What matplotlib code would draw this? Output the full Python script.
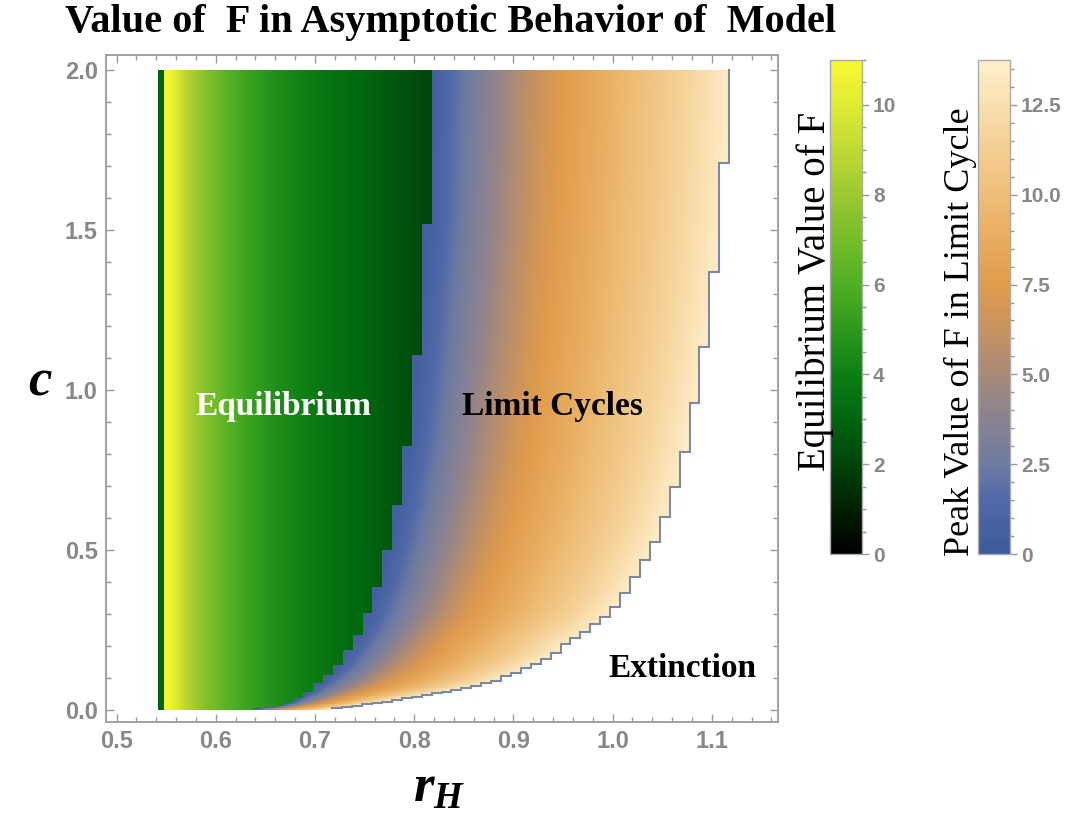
import numpy as np
import matplotlib
matplotlib.use('Agg')
import matplotlib.pyplot as plt
from matplotlib.colors import LinearSegmentedColormap, Normalize
from matplotlib.cm import ScalarMappable
from matplotlib.ticker import MultipleLocator

# ---------------- data ----------------
# r_H columns: one narrow first column, then columns of width 0.01
rh_edges = np.concatenate([[0.5415], np.round(np.arange(0.5475, 1.1180, 0.01), 4)])

# equilibrium value of F in each equilibrium column (columns 0..27)
eq_F = [3.0, 10.8, 9.6, 8.6, 7.8, 7.2, 6.7, 6.2, 5.8, 5.4, 5.1,
        4.8, 4.55, 4.35, 4.15, 3.95, 3.8, 3.6, 3.45, 3.3, 3.15,
        3.0, 2.85, 2.7, 2.55, 2.4, 2.25, 2.1]

# lowest c with a stable equilibrium, per column (columns 0..27)
hopf_c = [0, 0, 0, 0, 0, 0, 0, 0, 0, 0,
          0.004, 0.008, 0.012, 0.021, 0.0375, 0.057, 0.083, 0.109, 0.14,
          0.1875, 0.234, 0.302, 0.385, 0.50, 0.641, 0.823, 1.11, 1.52]

# c below which the system goes extinct, per column (columns 0..57)
ext_c = [0] * 18 + [
    0.006, 0.008, 0.013, 0.018, 0.022, 0.026, 0.032, 0.037, 0.042, 0.047,
    0.052, 0.057, 0.063, 0.069, 0.075, 0.083, 0.092, 0.105, 0.117, 0.13,
    0.145, 0.16, 0.177, 0.205, 0.225, 0.245, 0.268, 0.29, 0.323, 0.365,
    0.417, 0.469, 0.526, 0.604, 0.698, 0.807, 0.96, 1.135, 1.37, 1.71]

# peak F of the limit cycle vs. relative position across the limit-cycle band
lc_t = [0, 0.05, 0.1, 0.2, 0.3, 0.4, 0.5, 0.6, 0.7, 0.8, 0.9, 1.0]
lc_peak = [0.6, 1.3, 2.2, 3.8, 5.5, 7.0, 8.1, 9.1, 10.1, 11.1, 12.2, 13.5]

eq_max, lc_max = 11.0, 13.75
eq_ticks = [0, 2, 4, 6, 8, 10]
lc_ticks = [0, 2.5, 5.0, 7.5, 10.0, 12.5]

# ---------------- styling ----------------
plt.rcParams['font.family'] = ['Liberation Sans', 'DejaVu Sans']
plt.rcParams['mathtext.fontset'] = 'custom'
plt.rcParams['mathtext.it'] = 'Liberation Serif:italic:bold'
plt.rcParams['mathtext.rm'] = 'Liberation Serif:bold'
plt.rcParams['mathtext.bf'] = 'Liberation Serif:bold'

green = LinearSegmentedColormap.from_list('avocado', [
    (0.00, '#000000'), (0.09, '#002000'), (0.18, '#00440a'), (0.27, '#006410'),
    (0.36, '#0c7e14'), (0.45, '#2c981c'), (0.54, '#4eae22'), (0.63, '#72bc28'),
    (0.72, '#98c830'), (0.81, '#bcd834'), (0.90, '#dcea34'), (1.00, '#f8f832')])
sunset = LinearSegmentedColormap.from_list('lc', [
    (0.000, '#3b5b9b'), (0.109, '#5068a8'), (0.182, '#6e7ca0'), (0.273, '#8a8290'),
    (0.364, '#a88a78'), (0.455, '#c8925e'), (0.545, '#e09c4c'), (0.636, '#e8ac5e'),
    (0.727, '#eebe78'), (0.818, '#f4ce92'), (0.909, '#f9dfae'), (1.000, '#fff0cc')])

# ---------------- build field ----------------
ncol = len(rh_edges) - 1
centers = 0.5 * (rh_edges[:-1] + rh_edges[1:])
hopf_full = np.full(ncol, np.inf)
hopf_full[:len(hopf_c)] = hopf_c
ext_full = np.array(ext_c, dtype=float)

x_f = np.arange(rh_edges[0], rh_edges[-1], 0.0005) + 0.00025
y_f = np.linspace(0, 2, 801)
col = np.clip(np.searchsorted(rh_edges, x_f, side='right') - 1, 0, ncol - 1)
X, Y = np.meshgrid(x_f, y_f)
C = np.broadcast_to(col, X.shape)
eq_mask = Y >= hopf_full[C]
lc_mask = (~eq_mask) & (Y >= ext_full[C])

n_eq = len(eq_F)
eq_val = np.interp(x_f, centers[1:n_eq], eq_F[1:])
eq_val[col == 0] = eq_F[0]
E = np.where(eq_mask, eq_val[None, :], np.nan)

# smooth versions of the two boundaries (through the middles of the steps)
hc = np.array(hopf_c, dtype=float)
jh = np.where(hc > 0)[0]
hop_c_pts = np.concatenate([[0.0], hc[jh], [2.0]])
hop_x_pts = np.concatenate([[rh_edges[jh[0]]], rh_edges[jh] + 0.005, [rh_edges[len(hopf_c)]]])
je = np.where(ext_full > 0)[0]
ext_c_pts = np.concatenate([[0.0], ext_full[je], [2.0]])
ext_x_pts = np.concatenate([[rh_edges[je[0]]], rh_edges[je] + 0.005, [rh_edges[-1]]])
left = np.interp(y_f, hop_c_pts, hop_x_pts)[:, None]
right = np.interp(y_f, ext_c_pts, ext_x_pts)[:, None]
T = (X - left) / (right - left)
L = np.interp(T, lc_t, lc_peak)
L = np.where(lc_mask, L, np.nan)

# ---------------- figure ----------------
fig = plt.figure(figsize=(10.8, 8.16), dpi=100)
ax = fig.add_axes([106 / 1080, 1 - 722 / 816, 672 / 1080, 667 / 816])
extent = [rh_edges[0], rh_edges[-1], 0, 2]
ax.imshow(np.ma.masked_invalid(E), cmap=green, norm=Normalize(0, eq_max),
          extent=extent, origin='lower', aspect='auto', interpolation='nearest')
ax.imshow(np.ma.masked_invalid(L), cmap=sunset, norm=Normalize(0, lc_max),
          extent=extent, origin='lower', aspect='auto', interpolation='nearest')

# shaded edge along the extinction boundary
xs, ys = [], []
for j in je:
    xs += [rh_edges[j], rh_edges[j + 1]]
    ys += [ext_full[j], ext_full[j]]
xs.append(rh_edges[-1]); ys.append(2.0)
ax.plot(xs, ys, color='#7a88aa', lw=1.5, zorder=3, solid_joinstyle='miter')

ax.set_xlim(0.4893, 1.1667)
ax.set_ylim(-0.0375, 2.047)
ax.xaxis.set_major_locator(MultipleLocator(0.1))
ax.xaxis.set_minor_locator(MultipleLocator(0.02))
ax.yaxis.set_major_locator(MultipleLocator(0.5))
ax.yaxis.set_minor_locator(MultipleLocator(0.1))
ax.xaxis.set_major_formatter(plt.FuncFormatter(lambda v, p: f'{v:.1f}'))
ax.yaxis.set_major_formatter(plt.FuncFormatter(lambda v, p: f'{v:.1f}'))
ax.tick_params(which='both', direction='in', top=True, right=True,
               color='#999999', width=1.0, labelcolor='#888888', labelsize=17)
ax.tick_params(which='major', length=6)
ax.tick_params(which='minor', length=3.5)
ax.tick_params(axis='x', pad=6)
ax.tick_params(axis='y', pad=6)
for lbl in ax.get_xticklabels() + ax.get_yticklabels():
    lbl.set_fontweight('bold')
for s in ax.spines.values():
    s.set_color('#a0a0a0'); s.set_linewidth(1.4)

serif = ['Liberation Serif', 'DejaVu Serif']
ax.text(0.6677, 0.947, 'Equilibrium', color='white', family=serif, weight='bold',
        fontsize=24, ha='center', va='center')
ax.text(0.939, 0.947, 'Limit Cycles', color='black', family=serif, weight='bold',
        fontsize=24, ha='center', va='center')
ax.text(1.0705, 0.131, 'Extinction', color='black', family=serif, weight='bold',
        fontsize=24, ha='center', va='center')

fig.text(0.4176, 0.972, 'Value of  F in Asymptotic Behavior of  Model', family=serif,
         weight='bold', fontsize=29, ha='center', va='center')
fig.text(0.037, 0.534, r'$c$', fontsize=38, ha='center', va='center')
fig.text(0.407, 0.035, r'$r_H$', fontsize=38, ha='center', va='center')

# ---------------- colorbars ----------------
def make_cbar(x0, cmap, vmax, ticks, fmt):
    cax = fig.add_axes([x0 / 1080, 1 - 554 / 816, 32 / 1080, 494 / 816])
    cb = fig.colorbar(ScalarMappable(norm=Normalize(0, vmax), cmap=cmap), cax=cax)
    cb.set_ticks(ticks)
    cb.set_ticklabels([fmt(t) for t in ticks])
    cax.yaxis.set_minor_locator(MultipleLocator(0.5))
    cax.tick_params(which='both', direction='out', color='#999999', width=1.0,
                    labelcolor='#888888', labelsize=15, pad=3)
    cax.tick_params(which='major', length=5)
    cax.tick_params(which='minor', length=3)
    for lbl in cax.get_yticklabels():
        lbl.set_fontweight('bold')
    cb.outline.set_edgecolor('#aaaaaa')
    cb.outline.set_linewidth(1.0)
    return cb

make_cbar(830, green, eq_max, eq_ticks, lambda t: f'{t:g}')
make_cbar(978, sunset, lc_max, lc_ticks, lambda t: '0' if t == 0 else f'{t:.1f}')
fig.text(815 / 1080, 1 - 291 / 816, 'Equilibrium Value of F', family=serif, fontsize=28,
         rotation=90, ha='center', va='center')
fig.text(960 / 1080, 1 - 332 / 816, 'Peak Value of F in Limit Cycle', family=serif,
         fontsize=26, rotation=90, ha='center', va='center')

fig.savefig('out.png', dpi=100)
